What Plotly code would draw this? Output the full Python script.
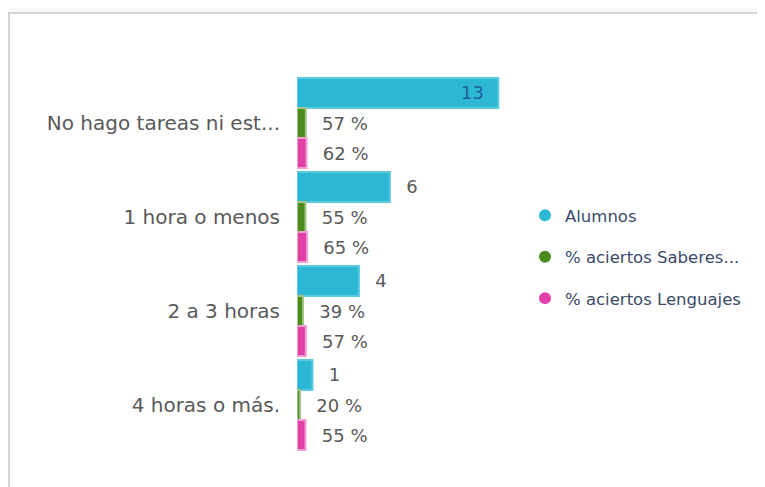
import plotly.graph_objects as go

categories = ["No hago tareas ni est...", "1 hora o menos", "2 a 3 horas", "4 horas o más."]
alumnos = [13, 6, 4, 1]
saberes = [0.57, 0.55, 0.39, 0.20]
lenguajes = [0.62, 0.65, 0.57, 0.55]
series_names = ["Alumnos", "% aciertos Saberes...", "% aciertos Lenguajes"]

c_cyan = "#2cb8d4"
c_green = "#4c8a1c"
c_pink = "#e040a8"
label_col = "#595959"
nb = "\u00a0"
pad = nb * 2 + "\u200a"
FONT = "DejaVu Sans"

# figure is offset by the page's 8px body margin
W, H = 757, 479
L, R, T, B = 289, 245, 68, 35
pw = W - L - R
ph = H - T - B

fig = go.Figure()

def pct_text(vals):
    return [pad + f"{round(v*100)} %" for v in vals]

fig.add_trace(go.Bar(
    y=categories, x=alumnos, orientation="h", name=series_names[0],
    marker=dict(color=c_cyan, line=dict(color="#5ccbe0", width=2)),
    text=[str(alumnos[0]) + nb * 2] + [pad + str(v) for v in alumnos[1:]],
    textposition=["inside", "outside", "outside", "outside"],
    insidetextanchor="end",
    insidetextfont=dict(color="#1f5f9f", size=18, family=FONT),
    outsidetextfont=dict(color=label_col, size=18, family=FONT),
    cliponaxis=False, showlegend=False,
))
fig.add_trace(go.Bar(
    y=categories, x=saberes, orientation="h", name=series_names[1],
    marker=dict(color=c_green, line=dict(color="#a3c48a", width=2)),
    text=pct_text(saberes), textposition="outside",
    outsidetextfont=dict(color=label_col, size=18, family=FONT),
    cliponaxis=False, showlegend=False,
))
fig.add_trace(go.Bar(
    y=categories, x=lenguajes, orientation="h", name=series_names[2],
    marker=dict(color=c_pink, line=dict(color="#f0a0d0", width=2)),
    text=pct_text(lenguajes), textposition="outside",
    outsidetextfont=dict(color=label_col, size=18, family=FONT),
    cliponaxis=False, showlegend=False,
))

for nm, col in zip(series_names, [c_cyan, c_green, c_pink]):
    fig.add_trace(go.Scatter(
        x=[None], y=[None], mode="markers", name=nm, legendgroup=nm,
        marker=dict(color=col, size=16, symbol="circle"),
        showlegend=True,
    ))

def px_x(p):
    return (p - L) / pw

def px_y(p):
    return (H - B - p) / ph

fig.add_shape(type="rect", xref="paper", yref="paper",
              x0=px_x(1), x1=px_x(755), y0=px_y(520), y1=px_y(5),
              fillcolor="white", line=dict(color="#d4d4d4", width=2),
              layer="below")

fig.update_layout(
    width=W, height=H,
    margin=dict(l=L, r=R, t=T, b=B),
    paper_bgcolor="#f8f9fb", plot_bgcolor="rgba(0,0,0,0)",
    barmode="group", bargap=0.04, bargroupgap=0,
    font=dict(family=FONT, color=label_col),
    xaxis=dict(range=[0, 14.4], visible=False, fixedrange=True),
    yaxis=dict(autorange="reversed", showgrid=False, zeroline=False,
               showline=False, ticks="", ticklen=0,
               tickfont=dict(size=20, color=label_col, family=FONT),
               ticklabelstandoff=16),
    legend=dict(x=px_x(517), y=px_y(190), xanchor="left", yanchor="top",
                font=dict(size=16.5, color="#3a4a6a", family=FONT),
                tracegroupgap=17, itemsizing="constant",
                bgcolor="rgba(0,0,0,0)"),
    showlegend=True,
)

fig.write_html("out.html")
